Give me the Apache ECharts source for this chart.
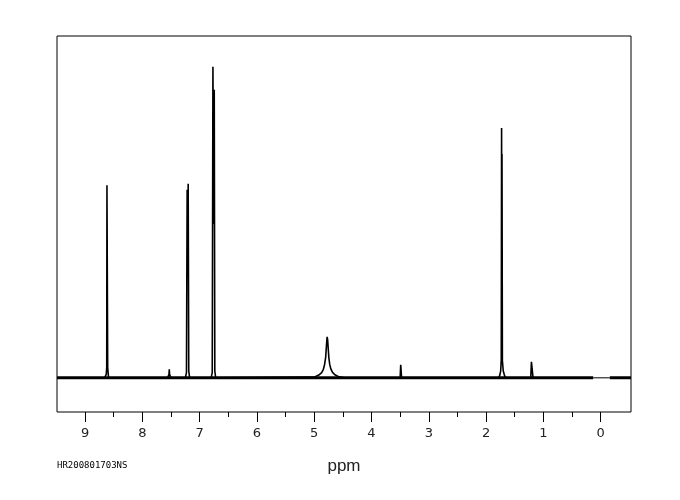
<!DOCTYPE html>
<html>
<head>
<meta charset="utf-8">
<script src="https://cdn.jsdelivr.net/npm/echarts@6/dist/echarts.min.js"></script>
<style>html,body{margin:0;padding:0;background:#fff}#c{width:680px;height:500px}</style>
</head>
<body>
<div id="c"></div>
<script>
// Tick labels (ppm)
const majorTicks = [0, 1, 2, 3, 4, 5, 6, 7, 8, 9];
const minorTicks = [0.5, 1.5, 2.5, 3.5, 4.5, 5.5, 6.5, 7.5, 8.5];
const sampleId = 'HR200801703NS';

// Noisy baseline regions (ppm) and the flat gap near TMS
const baselineLeft = [[9.49, 0], [0.13, 0]];
const baselineGap = [[0.13, 0], [-0.16, 0]];
const baselineRight = [[-0.16, 0], [-0.53, 0]];

// Spectrum trace: ppm and intensity
const specPpm = [
  8.66, 8.63, 8.622, 8.618, 8.613, 8.605, 8.59,
  7.56, 7.535, 7.53, 7.525, 7.50,
  7.25, 7.23, 7.218, 7.21, 7.200, 7.19, 7.175,
  6.80, 6.78, 6.768, 6.756, 6.745, 6.735, 6.72,
  5.00, 4.92, 4.87, 4.84, 4.82, 4.80, 4.79, 4.78, 4.774, 4.765, 4.755, 4.745, 4.73, 4.71, 4.68, 4.64, 4.58, 4.48,
  3.50, 3.49, 3.485, 3.475,
  1.78, 1.76, 1.745, 1.735, 1.729, 1.726, 1.722, 1.715, 1.70, 1.68, 1.66,
  1.22, 1.208, 1.195, 1.18
];
const specVal = [
  0, 1, 3, 56.3, 55.8, 3, 0,
  0, 1, 2.5, 1, 0,
  0, 1.5, 55, 30, 56.8, 2, 0,
  0, 1.5, 91, 45, 84.3, 2, 0,
  0.2, 0.8, 1.5, 2.5, 3.8, 6, 8.5, 11, 12, 11, 8.5, 6, 4, 2.6, 1.6, 0.9, 0.4, 0,
  0, 3.8, 3.8, 0,
  0, 0.8, 2, 5.3, 73.1, 40, 65.5, 5, 2, 0.8, 0,
  0, 4.7, 4.7, 0
];

const spectrum = specPpm.map((p, i) => [p, specVal[i]]);

const chart = echarts.init(document.getElementById('c'), null, {renderer: 'canvas'});
const lineBase = {type: 'line', symbol: 'none', silent: true, animation: false, xAxisIndex: 0, yAxisIndex: 0};
chart.setOption({
  backgroundColor: '#ffffff',
  animation: false,
  grid: {left: 57, right: 49, top: 36, bottom: 88, show: true, borderColor: '#000', borderWidth: 1, backgroundColor: 'transparent'},
  xAxis: [{
    type: 'value', min: -0.53, max: 9.49, inverse: true, position: 'bottom',
    axisLine: {show: false, onZero: false},
    splitLine: {show: false},
    axisTick: {show: true, customValues: majorTicks, length: 10, inside: false, lineStyle: {color: '#000', width: 1}},
    axisLabel: {show: true, customValues: majorTicks, margin: 15, fontSize: 13, color: '#222', fontFamily: 'DejaVu Sans', showMinLabel: true, showMaxLabel: true},
    name: 'ppm', nameLocation: 'middle', nameGap: 46,
    nameTextStyle: {fontSize: 17, color: '#222', fontFamily: 'Liberation Sans'}
  }, {
    type: 'value', min: -0.53, max: 9.49, inverse: true, position: 'bottom', gridIndex: 0,
    axisLine: {show: false, onZero: false},
    splitLine: {show: false},
    axisTick: {show: true, customValues: minorTicks, length: 5, inside: false, lineStyle: {color: '#000', width: 1}},
    axisLabel: {show: false}
  }],
  yAxis: {type: 'value', min: -10, max: 100, show: false},
  graphic: [{
    type: 'text', left: 57, top: 461,
    style: {text: sampleId, fontSize: 9, fontFamily: 'DejaVu Sans Mono', fill: '#000'}
  }],
  series: [
    Object.assign({}, lineBase, {data: baselineLeft, lineStyle: {color: '#000', width: 3}}),
    Object.assign({}, lineBase, {data: baselineGap, lineStyle: {color: '#000', width: 1}}),
    Object.assign({}, lineBase, {data: baselineRight, lineStyle: {color: '#000', width: 3}}),
    Object.assign({}, lineBase, {data: spectrum, lineStyle: {color: '#000', width: 1.6}})
  ]
});
</script>
</body>
</html>
